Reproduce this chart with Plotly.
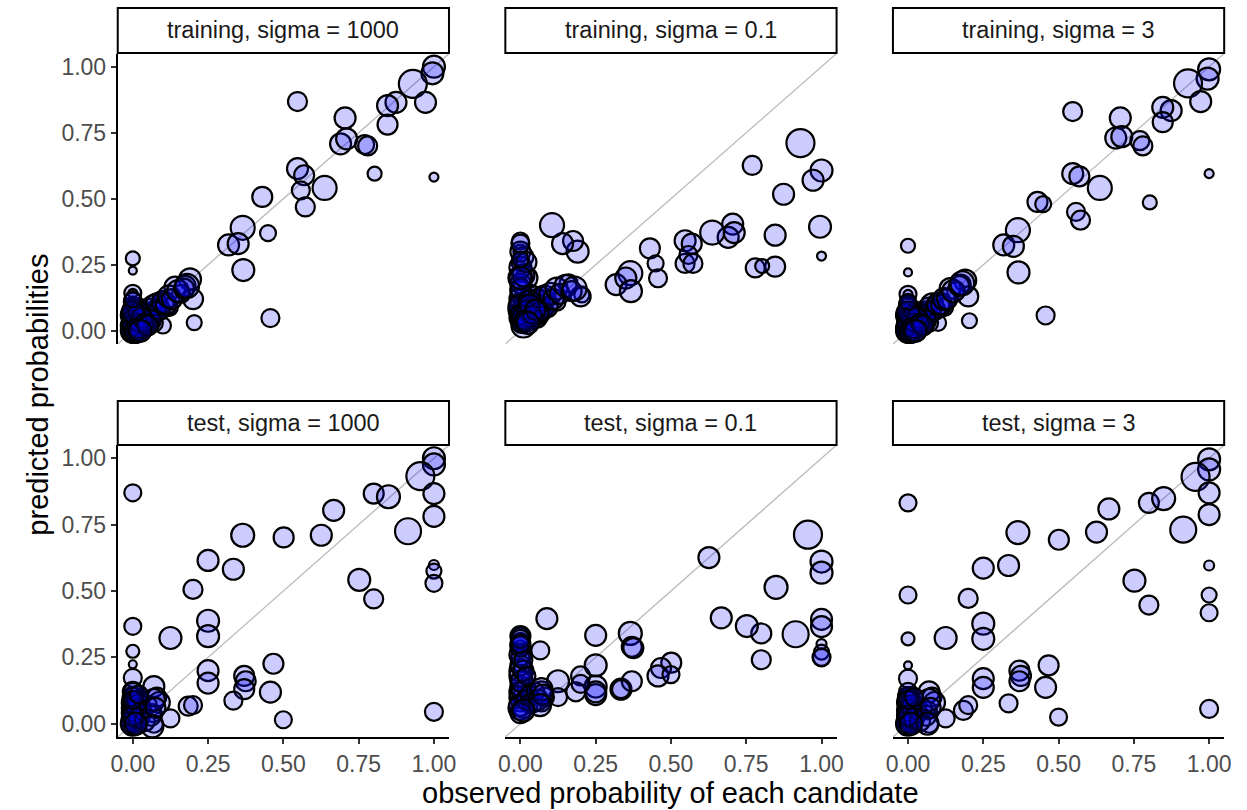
import plotly.graph_objects as go

# ---------------- data ----------------
sigma_labels = ["1000", "0.1", "3"]
row_labels = ["training", "test"]
tick_vals = [0, 0.25, 0.5, 0.75, 1.0]
tick_text = ["0.00", "0.25", "0.50", "0.75", "1.00"]

# training: well separated candidates
obs_training = [1.0, 0.995, 0.93, 0.972, 0.874, 0.846, 0.846, 0.547, 0.705, 0.69,
                0.71, 0.77, 0.78, 0.803, 1.0, 0.547, 0.569, 0.558, 0.573, 0.637,
                0.43, 0.449, 0.365, 0.318, 0.35, 0.367, 0.457, 0.204, 0.0, 0.0,
                0.0, 0.0, 0.19, 0.175, 0.2, 0.14, 0.105, 0.16, 0.1, 0.06,
                0.08, 0.12, 0.05, 0.03, 0.02, 0.01, 0.0, 0.0, 0.0, 0.0,
                0.01, 0.02, 0.0, 0.04, 0.0, 0.0, 0.03, 0.07, 0.0, 0.01,
                0.0, 0.0]
size_training = [20, 20, 26, 19, 19, 19, 18, 17, 19, 19,
                 19, 17, 17, 12, 7, 19, 18, 16, 17, 22,
                 18, 14, 22, 19, 19, 20, 16, 13, 12, 6,
                 15, 7, 20, 18, 18, 19, 22, 16, 14, 18,
                 15, 16, 20, 18, 20, 22, 18, 20, 16, 14,
                 18, 16, 12, 15, 18, 10, 14, 16, 8, 12,
                 22, 16]
pred_training_1000 = [1.0, 0.975, 0.935, 0.865, 0.865, 0.853, 0.781, 0.868, 0.806, 0.708,
                      0.727, 0.705, 0.70, 0.595, 0.582, 0.614, 0.589, 0.532, 0.469, 0.541,
                      0.507, 0.37, 0.39, 0.325, 0.33, 0.23, 0.048, 0.031, 0.274, 0.228,
                      0.142, 0.142, 0.195, 0.17, 0.12, 0.165, 0.1, 0.14, 0.02, 0.06,
                      0.09, 0.09, 0.04, 0.03, 0.08, 0.0, 0.05, 0.0, 0.02, 0.1,
                      0.01, 0.0, 0.07, 0.06, 0.01, 0.04, 0.02, 0.03, 0.0, 0.03,
                      0.06, 0.09]
pred_training_01 = [0.607, 0.394, 0.711, 0.57, 0.517, 0.362, 0.243, 0.255, 0.404, 0.354,
                    0.372, 0.626, 0.238, 0.245, 0.283, 0.341, 0.33, 0.287, 0.255, 0.372,
                    0.312, 0.255, 0.218, 0.175, 0.2, 0.15, 0.199, 0.136, 0.30, 0.2,
                    0.34, 0.25, 0.30, 0.34, 0.13, 0.33, 0.40, 0.18, 0.10, 0.12,
                    0.08, 0.11, 0.06, 0.05, 0.2, 0.02, 0.15, 0.1, 0.05, 0.22,
                    0.28, 0.03, 0.18, 0.08, 0.07, 0.12, 0.04, 0.07, 0.14, 0.09,
                    0.2, 0.26]
pred_training_3 = [0.99, 0.955, 0.937, 0.868, 0.834, 0.846, 0.79, 0.83, 0.806, 0.73,
                   0.735, 0.72, 0.70, 0.486, 0.595, 0.595, 0.585, 0.45, 0.419, 0.541,
                   0.488, 0.48, 0.381, 0.325, 0.32, 0.221, 0.058, 0.038, 0.322, 0.221,
                   0.138, 0.138, 0.19, 0.175, 0.13, 0.16, 0.1, 0.15, 0.03, 0.06,
                   0.08, 0.09, 0.04, 0.03, 0.07, 0.0, 0.05, 0.0, 0.02, 0.1,
                   0.01, 0.0, 0.06, 0.05, 0.01, 0.03, 0.02, 0.03, 0.0, 0.02,
                   0.06, 0.09]

# training: dense cluster of rare candidates near zero
obs_training_cluster = [0.0, 0.0, 0.005, 0.01, 0.015, 0.02, 0.025, 0.03, 0.035, 0.04,
                        0.045, 0.05, 0.055, 0.06, 0.065, 0.07, 0.075, 0.08, 0.09, 0.1,
                        0.11, 0.12, 0.13, 0.15, 0.17, 0.18, 0.0, 0.0, 0.0, 0.0,
                        0.0, 0.0, 0.01, 0.02, 0.0, 0.005, 0.02, 0.04, 0.03, 0.06,
                        0.0, 0.01, 0.02, 0.03, 0.0, 0.015, 0.04, 0.05, 0.0, 0.025]
size_training_cluster = [20, 22, 20, 18, 20, 22, 18, 20, 16, 22,
                         18, 20, 18, 20, 16, 22, 18, 20, 18, 20,
                         18, 20, 18, 20, 18, 22, 18, 20, 18, 20,
                         16, 18, 20, 18, 22, 18, 20, 18, 20, 18,
                         18, 20, 16, 18, 20, 18, 16, 18, 14, 20]
pred_training_cluster_1000 = [0.0, 0.02, 0.01, 0.03, 0.02, 0.04, 0.05, 0.02, 0.06, 0.04,
                              0.07, 0.06, 0.03, 0.08, 0.05, 0.09, 0.07, 0.1, 0.08, 0.11,
                              0.1, 0.13, 0.12, 0.15, 0.16, 0.17, 0.04, 0.06, 0.08, 0.03,
                              0.11, 0.01, 0.05, 0.07, 0.0, -0.01, 0.0, 0.02, 0.01, 0.04,
                              0.02, 0.0, 0.03, 0.05, 0.07, 0.01, 0.03, 0.02, 0.12, 0.0]
pred_training_cluster_01 = [0.05, 0.08, 0.04, 0.10, 0.06, 0.09, 0.12, 0.07, 0.14, 0.08,
                            0.13, 0.10, 0.05, 0.11, 0.06, 0.12, 0.08, 0.13, 0.09, 0.14,
                            0.12, 0.16, 0.14, 0.17, 0.15, 0.16, 0.18, 0.24, 0.30, 0.12,
                            0.33, 0.16, 0.21, 0.26, 0.09, 0.03, 0.04, 0.05, 0.11, 0.07,
                            0.06, 0.05, 0.08, 0.10, 0.20, 0.04, 0.06, 0.08, 0.27, 0.03]
pred_training_cluster_3 = [0.0, 0.01, 0.01, 0.02, 0.02, 0.03, 0.04, 0.02, 0.05, 0.04,
                           0.06, 0.06, 0.03, 0.07, 0.05, 0.08, 0.07, 0.1, 0.08, 0.1,
                           0.1, 0.12, 0.12, 0.15, 0.17, 0.18, 0.04, 0.06, 0.07, 0.03,
                           0.1, 0.01, 0.05, 0.06, 0.0, -0.01, 0.0, 0.02, 0.01, 0.04,
                           0.02, 0.0, 0.03, 0.05, 0.07, 0.01, 0.03, 0.02, 0.11, 0.0]

# test: well separated candidates
obs_test = [1.0, 1.0, 0.955, 1.0, 1.0, 1.0, 1.0, 1.0, 1.0, 0.80,
            0.849, 0.914, 0.667, 0.626, 0.501, 0.365, 0.752, 0.80, 0.25, 0.334,
            0.2, 0.25, 0.25, 0.125, 0.0, 0.0, 0.0, 0.0, 0.0, 0.25,
            0.25, 0.37, 0.375, 0.37, 0.467, 0.457, 0.334, 0.184, 0.2, 0.5,
            0.125, 0.07, 0.08, 0.07, 0.088, 0.066, 0.0, 0.0, 0.0, 0.0,
            0.0, 0.0, 0.0, 0.01, 0.0, 0.02, 0.03, 0.0, 0.0]
size_test = [20, 20, 26, 19, 19, 8, 13, 15, 16, 18,
             21, 24, 19, 19, 18, 21, 20, 17, 19, 19,
             17, 20, 20, 20, 15, 15, 11, 6, 16, 19,
             19, 18, 18, 18, 18, 19, 16, 17, 16, 15,
             16, 19, 17, 16, 19, 16, 18, 18, 16, 20,
             18, 20, 16, 18, 14, 16, 14, 12, 10]
pred_test_1000 = [1.0, 0.977, 0.933, 0.867, 0.781, 0.598, 0.575, 0.529, 0.045, 0.867,
                  0.855, 0.725, 0.804, 0.71, 0.702, 0.71, 0.542, 0.47, 0.615, 0.582,
                  0.506, 0.388, 0.33, 0.323, 0.87, 0.367, 0.273, 0.224, 0.173, 0.2,
                  0.153, 0.18, 0.16, 0.13, 0.226, 0.119, 0.087, 0.066, 0.07, 0.015,
                  0.02, 0.14, 0.10, 0.0, 0.08, 0.04, 0.12, 0.1, 0.08, 0.06,
                  0.04, 0.02, 0.0, 0.01, 0.05, 0.09, 0.03, 0.11, 0.0]
pred_test_01 = [0.611, 0.569, 0.712, 0.393, 0.366, 0.30, 0.27, 0.25, 0.25, 0.34,
                0.514, 0.337, 0.399, 0.626, 0.23, 0.34, 0.368, 0.241, 0.333, 0.13,
                0.18, 0.22, 0.14, 0.16, 0.33, 0.31, 0.29, 0.27, 0.25, 0.11,
                0.12, 0.29, 0.285, 0.16, 0.21, 0.18, 0.13, 0.12, 0.15, 0.185,
                0.10, 0.12, 0.10, 0.08, 0.396, 0.276, 0.33, 0.30, 0.25, 0.2,
                0.16, 0.12, 0.08, 0.06, 0.1, 0.14, 0.07, 0.22, 0.05]
pred_test_3 = [0.996, 0.958, 0.93, 0.87, 0.788, 0.596, 0.485, 0.418, 0.056, 0.832,
               0.848, 0.731, 0.809, 0.722, 0.693, 0.72, 0.539, 0.447, 0.586, 0.596,
               0.472, 0.377, 0.32, 0.323, 0.832, 0.485, 0.32, 0.22, 0.17, 0.17,
               0.137, 0.2, 0.18, 0.16, 0.22, 0.137, 0.077, 0.05, 0.07, 0.025,
               0.02, 0.12, 0.10, 0.0, 0.08, 0.05, 0.1, 0.09, 0.07, 0.05,
               0.04, 0.02, 0.0, 0.01, 0.06, 0.1, 0.03, 0.11, 0.0]

# test: dense cluster near zero
obs_test_cluster = [0.0, 0.0, 0.0, 0.0, 0.0, 0.0, 0.0, 0.0, 0.005, 0.005,
                    0.01, 0.01, 0.0, 0.02, 0.03, 0.04, 0.05, 0.06, 0.07, 0.075,
                    0.065, 0.0, 0.0, 0.01, 0.02]
size_test_cluster = [20, 18, 20, 18, 20, 18, 16, 20, 18, 20,
                     18, 16, 22, 18, 16, 18, 16, 18, 20, 18,
                     20, 18, 16, 20, 16]
pred_test_cluster_1000 = [0.0, 0.02, 0.04, 0.06, 0.08, 0.1, 0.12, 0.01, 0.03, 0.05,
                          0.07, 0.09, 0.0, 0.02, 0.05, 0.01, 0.07, 0.03, 0.09, 0.06,
                          -0.01, 0.03, 0.09, 0.0, 0.11]
pred_test_cluster_01 = [0.1, 0.14, 0.18, 0.22, 0.26, 0.29, 0.32, 0.07, 0.12, 0.16,
                        0.2, 0.24, 0.06, 0.09, 0.11, 0.08, 0.12, 0.09, 0.13, 0.11,
                        0.07, 0.04, 0.3, 0.05, 0.18]
pred_test_cluster_3 = [0.0, 0.02, 0.03, 0.06, 0.08, 0.1, 0.12, 0.01, 0.03, 0.05,
                       0.07, 0.09, 0.0, 0.02, 0.05, 0.01, 0.06, 0.03, 0.09, 0.06,
                       0.0, 0.03, 0.09, 0.0, 0.1]

rows = [
    (obs_training + obs_training_cluster, size_training + size_training_cluster,
     [pred_training_1000 + pred_training_cluster_1000,
      pred_training_01 + pred_training_cluster_01,
      pred_training_3 + pred_training_cluster_3]),
    (obs_test + obs_test_cluster, size_test + size_test_cluster,
     [pred_test_1000 + pred_test_cluster_1000,
      pred_test_01 + pred_test_cluster_01,
      pred_test_3 + pred_test_cluster_3]),
]

# ---------------- layout geometry ----------------
W, H = 1247, 810
col_px = [(112, 447), (504, 839), (896, 1231)]
row_px = [(53.5, 344), (445, 737)]
strip_px = [(8, 53), (401, 445)]
rng = [-0.05, 1.05]
FONT = "Liberation Sans, Arial, Helvetica, sans-serif"
TICK_COLOR = "#4D4D4D"

fig = go.Figure()
layout_axes = {}
shapes = []
annotations = []

for r, (obs, sizes, preds) in enumerate(rows):
    for c in range(3):
        idx = r * 3 + c + 1
        xname = "x" if idx == 1 else f"x{idx}"
        yname = "y" if idx == 1 else f"y{idx}"
        xkey = "xaxis" if idx == 1 else f"xaxis{idx}"
        ykey = "yaxis" if idx == 1 else f"yaxis{idx}"
        x0, x1 = col_px[c]
        ytop, ybot = row_px[r]

        # diagonal reference line y = x
        fig.add_trace(go.Scatter(
            x=rng, y=rng, mode="lines", xaxis=xname, yaxis=yname,
            line=dict(color="#BEBEBE", width=1.4), hoverinfo="skip", showlegend=False))

        fig.add_trace(go.Scatter(
            x=obs, y=preds[c], mode="markers", xaxis=xname, yaxis=yname,
            marker=dict(size=[s + 2 for s in sizes], color="rgba(0,0,255,0.2)",
                        opacity=1,
                        line=dict(color="black", width=2.2)),
            cliponaxis=True, showlegend=False))

        bottom = (r == 1)
        left = (c == 0)
        layout_axes[xkey] = dict(
            domain=[x0 / W, x1 / W], range=rng, anchor=yname,
            showgrid=False, zeroline=False,
            showline=bottom, linecolor="black", linewidth=2,
            ticks="outside" if bottom else "", ticklen=5, tickwidth=2, tickcolor="#333333",
            showticklabels=bottom, tickvals=tick_vals, ticktext=tick_text,
            tickfont=dict(family=FONT, size=23, color=TICK_COLOR),
        )
        layout_axes[ykey] = dict(
            domain=[1 - ybot / H, 1 - ytop / H], range=rng, anchor=xname,
            showgrid=False, zeroline=False,
            showline=left, linecolor="black", linewidth=2,
            ticks="outside" if left else "", ticklen=5, tickwidth=2, tickcolor="#333333",
            showticklabels=left, tickvals=tick_vals, ticktext=tick_text,
            tickfont=dict(family=FONT, size=23, color=TICK_COLOR),
        )

        # strip
        st, sb = strip_px[r]
        shapes.append(dict(type="rect", xref="paper", yref="paper",
                           x0=x0 / W, x1=x1 / W, y0=1 - sb / H, y1=1 - st / H,
                           line=dict(color="black", width=2), fillcolor="white"))
        annotations.append(dict(
            text=f"{row_labels[r]}, sigma = {sigma_labels[c]}",
            xref="paper", yref="paper", x=(x0 + x1) / 2 / W, y=1 - (st + sb) / 2 / H,
            xanchor="center", yanchor="middle", showarrow=False,
            font=dict(family=FONT, size=23.5, color="#1A1A1A")))

annotations.append(dict(
    text="observed probability of each candidate", xref="paper", yref="paper",
    x=(112 + 1231) / 2 / W, y=1 - 793 / H, xanchor="center", yanchor="middle",
    showarrow=False, font=dict(family=FONT, size=29, color="black")))
annotations.append(dict(
    text="predicted probabilities", xref="paper", yref="paper",
    x=31 / W, y=1 - 395 / H, xanchor="center", yanchor="middle", textangle=-90,
    showarrow=False, font=dict(family=FONT, size=29, color="black")))

fig.update_layout(
    width=W, height=H, margin=dict(l=0, r=0, t=0, b=0),
    paper_bgcolor="white", plot_bgcolor="white",
    shapes=shapes, annotations=annotations, showlegend=False,
    **layout_axes,
)

fig.write_html("out.html")
